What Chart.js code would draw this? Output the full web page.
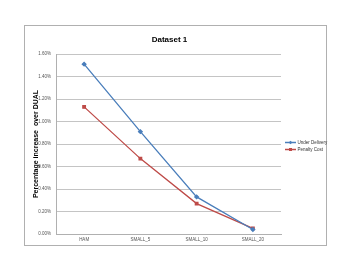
<!DOCTYPE html>
<html>
<head>
<meta charset="utf-8">
<script src="https://cdn.jsdelivr.net/npm/chart.js@4.4.1/dist/chart.umd.min.js"></script>
<style>
  html, body { margin: 0; padding: 0; background: #fff; }
</style>
</head>
<body>
<canvas id="chart" width="352" height="272"></canvas>
<script>
const categories = ["HAM", "SMALL_5", "SMALL_10", "SMALL_20"];
const underDelivery = [1.51, 0.91, 0.33, 0.04];
const penaltyCost = [1.13, 0.67, 0.27, 0.05];
const seriesNames = ["Under Delivery", "Penalty Cost"];
const chartTitle = "Dataset 1";

const FONT = "'Liberation Sans', Arial, sans-serif";
const BLUE = "#4A7EBB";
const RED = "#BE4B48";

// outer frame, title over the plot and excel-style legend
const frame = {
  id: "frame",
  beforeDraw(chart) {
    const ctx = chart.ctx;
    ctx.save();
    ctx.fillStyle = "#fff";
    ctx.fillRect(0, 0, chart.width, chart.height);
    ctx.strokeStyle = "#b0b0b0";
    ctx.lineWidth = 1;
    ctx.strokeRect(24.5, 25.5, 302, 220);
    ctx.restore();
  },
  afterDraw(chart) {
    const ctx = chart.ctx;
    const area = chart.chartArea;
    ctx.save();
    ctx.fillStyle = "#000";
    ctx.font = "bold 8px " + FONT;
    ctx.textAlign = "center";
    ctx.textBaseline = "middle";
    ctx.fillText(chartTitle, (area.left + area.right) / 2 + 1, 40);

    ctx.textAlign = "left";
    chart.data.datasets.forEach((ds, i) => {
      const y = 142.5 + i * 7;
      ctx.strokeStyle = ds.borderColor;
      ctx.lineWidth = 1.5;
      ctx.beginPath();
      ctx.moveTo(285, y);
      ctx.lineTo(296, y);
      ctx.stroke();
      ctx.fillStyle = ds.borderColor;
      if (ds.pointStyle === "rectRot") {
        ctx.beginPath();
        ctx.moveTo(290.5, y - 1.8);
        ctx.lineTo(292.3, y);
        ctx.lineTo(290.5, y + 1.8);
        ctx.lineTo(288.7, y);
        ctx.closePath();
        ctx.fill();
      } else {
        ctx.fillRect(289, y - 1.5, 3, 3);
      }
      ctx.fillStyle = "#333";
      ctx.font = "4.5px " + FONT;
      ctx.textBaseline = "middle";
      ctx.fillText(ds.label, 297.5, y);
    });
    ctx.restore();
  }
};

new Chart(document.getElementById("chart"), {
  type: "line",
  data: {
    labels: categories,
    datasets: [
      {
        label: seriesNames[0],
        data: underDelivery,
        borderColor: BLUE,
        backgroundColor: BLUE,
        borderWidth: 1.3,
        pointStyle: "rectRot",
        pointRadius: 1.8,
        tension: 0
      },
      {
        label: seriesNames[1],
        data: penaltyCost,
        borderColor: RED,
        backgroundColor: RED,
        borderWidth: 1.3,
        pointStyle: "rect",
        pointRadius: 1.8,
        tension: 0
      }
    ]
  },
  options: {
    responsive: false,
    animation: false,
    layout: { padding: { left: 28, right: 71, top: 54, bottom: 26 } },
    plugins: {
      legend: { display: false },
      tooltip: { enabled: false },
      title: { display: false }
    },
    scales: {
      x: {
        offset: true,
        grid: { display: false, drawTicks: false },
        border: { color: "#b0b0b0", width: 1 },
        ticks: {
          color: "#555",
          font: { family: FONT, size: 4.5 },
          padding: 3,
          maxRotation: 0,
          autoSkip: false
        },
        afterFit(scale) { scale.height = 12; }
      },
      y: {
        min: 0,
        max: 1.6,
        grid: { color: "#c4c4c4", lineWidth: 1, drawTicks: false },
        border: { color: "#b0b0b0", width: 1 },
        ticks: {
          stepSize: 0.2,
          color: "#555",
          font: { family: FONT, size: 4.5 },
          padding: 5,
          callback: v => v.toFixed(2) + "%"
        },
        title: {
          display: true,
          text: "Percentage increase  over DUAL",
          color: "#000",
          font: { family: FONT, size: 7, weight: "bold" },
          padding: { top: 4, bottom: 0 }
        },
        afterFit(scale) { scale.width = 28; }
      }
    }
  },
  plugins: [frame]
});
</script>
</body>
</html>
